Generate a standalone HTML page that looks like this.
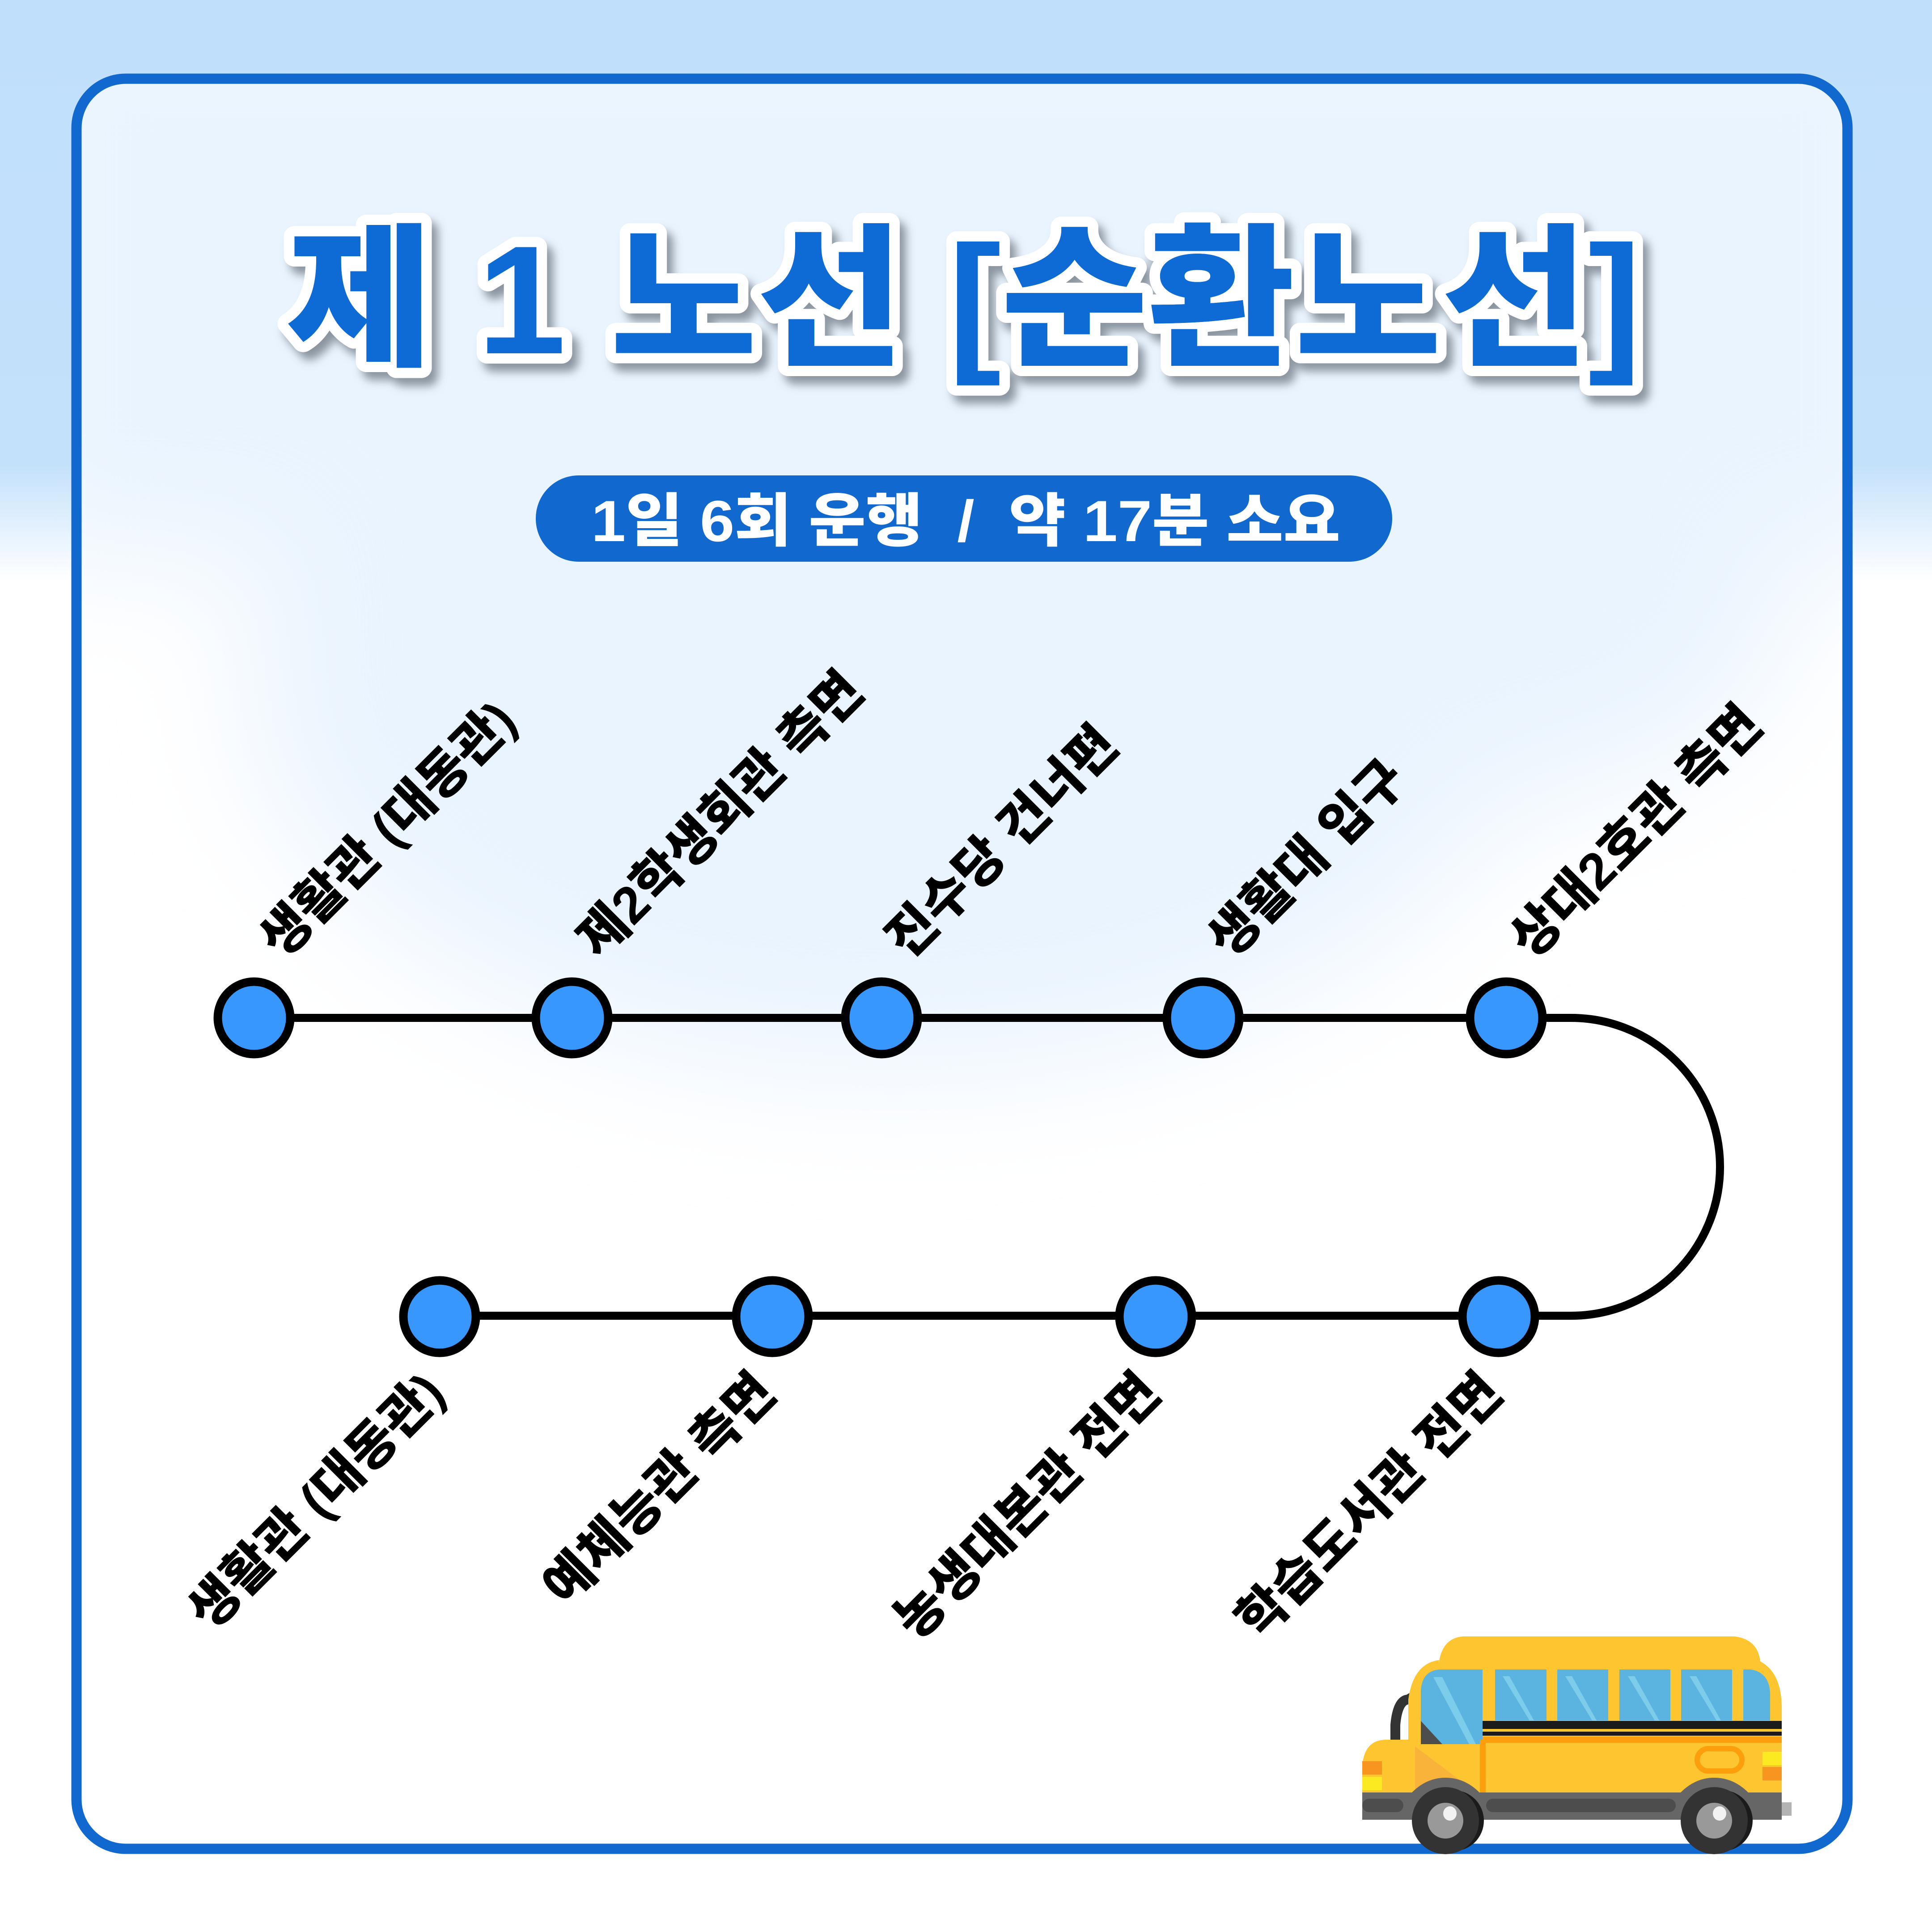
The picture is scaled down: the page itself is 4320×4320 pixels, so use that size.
<!DOCTYPE html>
<html><head><meta charset="utf-8">
<style>
html,body{margin:0;padding:0;width:4320px;height:4320px;overflow:hidden;background:#fff}
svg{display:block}
.t{font-family:"Liberation Sans","Noto Sans CJK KR",sans-serif;font-weight:900}
.lb{font-family:"Liberation Sans","Noto Sans CJK KR",sans-serif;font-weight:900;font-size:116px;fill:#000}
</style></head><body>
<svg width="4320" height="4320" viewBox="0 0 4320 4320" xmlns="http://www.w3.org/2000/svg">
<defs>
<filter id="blur" x="-50%" y="-50%" width="200%" height="200%"><feGaussianBlur stdDeviation="140"/></filter>
<filter id="sh" x="-10%" y="-10%" width="130%" height="140%"><feDropShadow dx="14" dy="18" stdDeviation="10" flood-color="#6b7480" flood-opacity="0.75"/></filter>
<clipPath id="fr"><rect x="171" y="176" width="3960" height="3958" rx="110"/></clipPath>
<linearGradient id="bg" x1="0" y1="0" x2="0" y2="1"><stop offset="0" stop-color="#c0dffb"/><stop offset="0.8" stop-color="#c4e1fb"/><stop offset="1" stop-color="#fff"/></linearGradient>
</defs>
<rect width="4320" height="4320" fill="#fff"/>
<rect width="4320" height="1300" fill="url(#bg)"/>
<rect x="171" y="176" width="3960" height="3958" rx="110" fill="#fff"/>
<g clip-path="url(#fr)">
<g filter="url(#blur)" fill="#eaf4fe">
<rect x="0" y="0" width="4320" height="1250"/>
<ellipse cx="2000" cy="1500" rx="1450" ry="900"/>
<ellipse cx="3300" cy="1350" rx="700" ry="450"/>
</g>
</g>
<rect x="171" y="176" width="3960" height="3958" rx="110" fill="none" stroke="#1169d0" stroke-width="23"/>

<g filter="url(#sh)">
<text class="t" x="640" y="790" font-size="345" textLength="3030" lengthAdjust="spacingAndGlyphs" fill="#0e6bd6" stroke="#fff" stroke-width="46" stroke-linejoin="round" paint-order="stroke">제 1 노선 [순환노선]</text>
</g>
<text class="t" x="640" y="790" font-size="345" textLength="3030" lengthAdjust="spacingAndGlyphs" fill="#0e6bd6">제 1 노선 [순환노선]</text>

<rect x="1198" y="1063" width="1915" height="193" rx="96" fill="#1169d0"/>
<text class="t" x="1322" y="1210" font-size="130" fill="#fff" textLength="1675" lengthAdjust="spacingAndGlyphs" font-weight="700">1일 6회 운행&#160;&#160;/&#160;&#160;약 17분 소요</text>

<g fill="none" stroke="#000" stroke-width="18">
<path d="M565 2276 H3513 A333 333 0 0 1 3513 2942 H981"/>
</g>
<g fill="#3797fc" stroke="#000" stroke-width="19">
<circle cx="568" cy="2276" r="81"/>
<circle cx="1279" cy="2276" r="81"/>
<circle cx="1971" cy="2276" r="81"/>
<circle cx="2690" cy="2276" r="81"/>
<circle cx="3368" cy="2276" r="81"/>
<circle cx="983" cy="2944" r="81"/>
<circle cx="1727" cy="2944" r="81"/>
<circle cx="2584" cy="2944" r="81"/>
<circle cx="3351" cy="2944" r="81"/>
</g>

<text class="lb" transform="translate(630,2148) rotate(-45)">생활관 (대동관)</text>
<text class="lb" transform="translate(1340,2148) rotate(-45)">제2학생회관 측면</text>
<text class="lb" transform="translate(2030,2148) rotate(-45)">진수당 건너편</text>
<text class="lb" transform="translate(2750,2148) rotate(-45)">생활대 입구</text>
<text class="lb" transform="translate(3425,2148) rotate(-45)">상대2호관 측면</text>
<text class="lb" text-anchor="end" transform="translate(1000,3120) rotate(-45)">생활관 (대동관)</text>
<text class="lb" text-anchor="end" transform="translate(1740,3120) rotate(-45)">예체능관 측면</text>
<text class="lb" text-anchor="end" transform="translate(2600,3120) rotate(-45)">농생대본관 전면</text>
<text class="lb" text-anchor="end" transform="translate(3365,3120) rotate(-45)">학습도서관 전면</text>

<g>
<path d="M3120 3937 V3857 Q3125 3800 3150 3800 Q3160 3790 3165 3802" fill="none" stroke="#333" stroke-width="22" stroke-linecap="round"/>
<path d="M3217 3720 Q3225 3660 3275 3659 H3878 Q3930 3665 3936 3715 Q3984 3740 3984 3820 V4008 H3046 V3950 Q3050 3890 3100 3890 H3149 V3800 Q3160 3720 3217 3712 Z" fill="#fdc52f"/>
<path d="M3177 3900 V3780 Q3180 3735 3220 3733 H3315 V3900 Z" fill="#5bb4df"/>
<path d="M3177 3848 L3225 3900 H3177 Z" fill="#4d4d4d"/>
<g fill="#5bb4df">
<rect x="3343" y="3733" width="115" height="114"/>
<rect x="3482" y="3733" width="114" height="114"/>
<rect x="3621" y="3733" width="114" height="114"/>
<rect x="3759" y="3733" width="114" height="114"/>
<path d="M3898 3733 H3915 Q3958 3740 3958 3790 V3847 H3898 Z"/>
</g>
<g fill="#8ad7f0" opacity="0.7">
<path d="M3205 3750 L3285 3900 H3300 L3225 3750Z"/><path d="M3360 3748 L3420 3847 H3430 L3375 3748Z"/><path d="M3500 3748 L3560 3847 H3570 L3515 3748Z"/><path d="M3640 3748 L3700 3847 H3710 L3655 3748Z"/><path d="M3778 3748 L3838 3847 H3848 L3793 3748Z"/>
</g>
<rect x="3315" y="3848" width="669" height="18" fill="#1b1b1b"/>
<rect x="3315" y="3872" width="669" height="9" fill="#1b1b1b"/>
<rect x="3315" y="3883" width="669" height="14" fill="#fd9f0c"/>
<rect x="3309" y="3890" width="13" height="118" fill="#fd9f0c"/>
<path d="M3164 3905 L3290 4000 H3164Z" fill="#f9b23a"/>
<rect x="3795" y="3910" width="100" height="50" rx="25" fill="none" stroke="#fd9f0c" stroke-width="12"/>
<rect x="3046" y="3938" width="44" height="30" fill="#f79520"/>
<rect x="3046" y="3973" width="44" height="30" fill="#fbe921"/>
<rect x="3941" y="3917" width="43" height="30" fill="#fbe921"/>
<rect x="3941" y="3951" width="43" height="30" fill="#f79520"/>
<rect x="3046" y="4008" width="938" height="61" fill="#666"/>
<rect x="3046" y="4022" width="92" height="30" rx="15" fill="#4d4d4d"/>
<rect x="3323" y="4022" width="424" height="30" rx="15" fill="#4d4d4d"/>
<rect x="3984" y="4030" width="22" height="30" fill="#b3b3b3"/>
<path d="M3157 4008 Q3190 3975 3232 3975 Q3275 3975 3308 4008Z" fill="#666"/>
<path d="M3758 4008 Q3791 3975 3833 3975 Q3876 3975 3909 4008Z" fill="#666"/>
<circle cx="3250" cy="4071" r="68" fill="#1b1b1b"/>
<circle cx="3851" cy="4071" r="68" fill="#1b1b1b"/>
<circle cx="3232" cy="4071" r="75" fill="#333"/>
<circle cx="3833" cy="4071" r="75" fill="#333"/>
<circle cx="3232" cy="4071" r="40" fill="#999"/>
<circle cx="3833" cy="4071" r="40" fill="#999"/>
<ellipse cx="3242" cy="4055" rx="15" ry="16" fill="#f2f2f2"/>
<ellipse cx="3845" cy="4055" rx="15" ry="16" fill="#f2f2f2"/>
</g>
</svg>
</body></html>
